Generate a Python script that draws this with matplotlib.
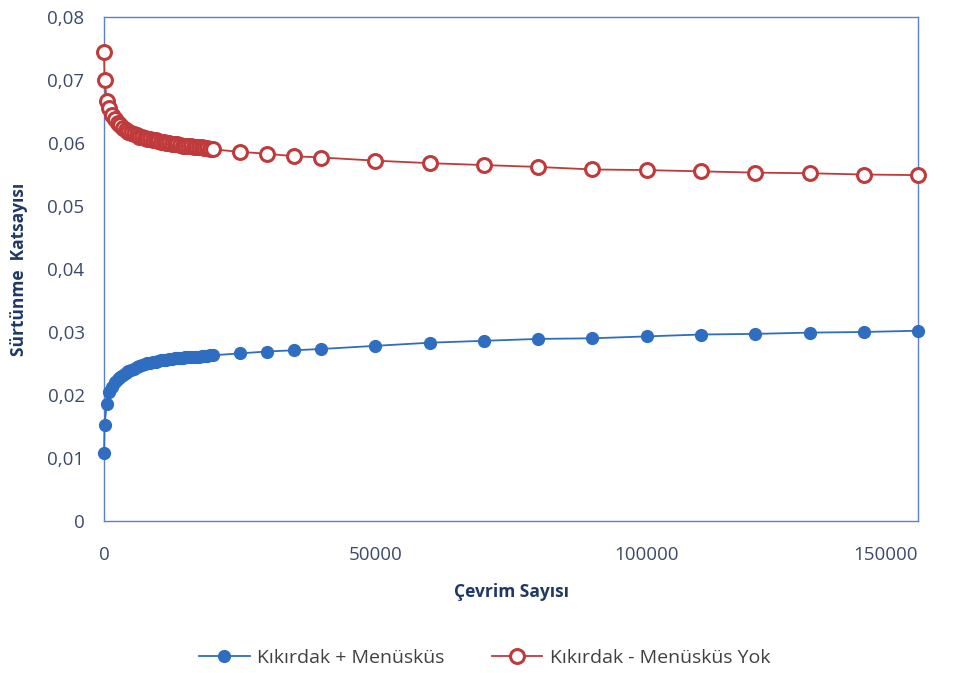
import matplotlib.pyplot as plt

plt.rcParams['font.family'] = ['Open Sans', 'DejaVu Sans']

# --- cycle counts ---
cycles = [0, 100, 500] + [1000 + 500 * i for i in range(39)] + \
         [25000, 30000, 35000, 40000, 50000, 60000, 70000, 80000,
          90000, 100000, 110000, 120000, 130000, 140000, 150000]

# friction coefficient, cartilage + meniscus
with_meniscus = [
    0.0108, 0.0153, 0.0186,
    0.0205, 0.0213, 0.0220, 0.0225, 0.0229, 0.0232, 0.0235, 0.0238, 0.0240, 0.0242,
    0.0244, 0.0246, 0.0248, 0.0249, 0.0250, 0.0251, 0.0252, 0.0253, 0.0254, 0.0255,
    0.0256, 0.0256, 0.0257, 0.0257, 0.0258, 0.0258, 0.0259, 0.0259, 0.0260, 0.0260,
    0.0260, 0.0261, 0.0261, 0.0261, 0.0262, 0.0262, 0.0262, 0.0263, 0.0263,
    0.0266, 0.0269, 0.0271, 0.0273, 0.0278, 0.0283, 0.0286, 0.0289,
    0.0290, 0.0293, 0.0296, 0.0297, 0.0299, 0.0300, 0.0302,
]

# friction coefficient, cartilage without meniscus
without_meniscus = [
    0.0744, 0.0700, 0.0667,
    0.0655, 0.0645, 0.0638, 0.0632, 0.0628, 0.0624, 0.0621, 0.0618, 0.0616, 0.0614,
    0.0612, 0.0610, 0.0609, 0.0608, 0.0607, 0.0606, 0.0605, 0.0604, 0.0603, 0.0602,
    0.0601, 0.0600, 0.0600, 0.0599, 0.0598, 0.0598, 0.0597, 0.0596, 0.0596, 0.0595,
    0.0595, 0.0594, 0.0594, 0.0593, 0.0593, 0.0592, 0.0592, 0.0591, 0.0590,
    0.0586, 0.0583, 0.0579, 0.0577, 0.0572, 0.0568, 0.0565, 0.0562,
    0.0558, 0.0557, 0.0555, 0.0553, 0.0552, 0.0550, 0.0549,
]

labels = ["Kıkırdak + Menüsküs", "Kıkırdak - Menüsküs Yok"]

fig = plt.figure(figsize=(9.58, 6.73), dpi=100)
ax = fig.add_axes([0.1086, 0.2259, 0.8497, 0.7488])

ax.plot(cycles, with_meniscus, color='#2E6DBF', lw=1.3, marker='o',
        markersize=8.5, markerfacecolor='#2E6DBF', markeredgecolor='#2E6DBF',
        clip_on=False, zorder=3, label=labels[0])
ax.plot(cycles, without_meniscus, color='#C0393B', lw=1.3, marker='o',
        markersize=10, markerfacecolor='white', markeredgecolor='#C0393B',
        markeredgewidth=2.2, clip_on=False, zorder=3, label=labels[1])

ax.set_xlim(0, 150000)
ax.set_ylim(0, 0.08)
ax.set_xticks([0, 50000, 100000, 150000])
ax.set_yticks([i / 100 for i in range(9)])
ax.set_yticklabels(['0'] + ['0,%02d' % i for i in range(1, 9)])

tick_color = '#3B4A6B'
ax.tick_params(length=0, labelsize=13.5, colors=tick_color)
ax.tick_params(axis='x', pad=18)
ax.tick_params(axis='y', pad=14)
# last x label sits inside the right edge
ax.get_xticklabels()[-1].set_horizontalalignment('right')

for s in ax.spines.values():
    s.set_color('#5B80D0')
    s.set_linewidth(1)

ax.set_xlabel("Çevrim Sayısı", fontsize=12.5, fontweight='bold', color='#1F3864', labelpad=14)
ax.set_ylabel("Sürtünme  Katsayısı", fontsize=12.5, fontweight='bold', color='#1F3864', labelpad=14)

fig.legend(loc='center', bbox_to_anchor=(0.506, 0.023), ncol=2, frameon=False,
           fontsize=14, handlelength=2.6, handletextpad=0.4, columnspacing=2.4,
           labelcolor='#404040')

fig.savefig("out.png", dpi=100)
